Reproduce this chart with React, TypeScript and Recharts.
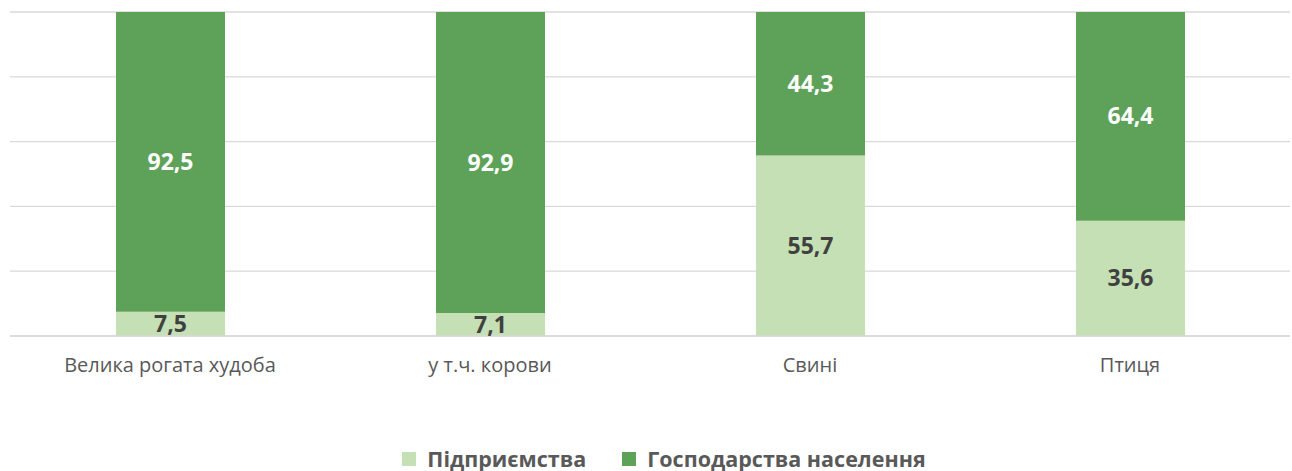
import React from "react";
import { BarChart, Bar, XAxis, YAxis, CartesianGrid, LabelList, Legend } from "recharts";

const categories = ["Велика рогата худоба", "у т.ч. корови", "Свині", "Птиця"];
const enterprises = [7.5, 7.1, 55.7, 35.6];
const households = [92.5, 92.9, 44.3, 64.4];
const yTicks = [0, 20, 40, 60, 80, 100];

const data = categories.map((name, i) => ({
  name,
  enterprises: enterprises[i],
  households: households[i],
}));

const LIGHT = "#c5e0b4";
const DARK = "#5ea25a";
const FONT = "'Open Sans', 'Noto Sans', sans-serif";

const fmt = (v: any) => String(v).replace(".", ",");

const LegendContent = () => (
  <div
    style={{
      display: "flex",
      justifyContent: "center",
      alignItems: "center",
      fontFamily: FONT,
      fontWeight: 700,
      fontSize: 21.5,
      color: "#595959",
      gap: 36,
      height: 29,
      paddingLeft: 36,
    }}
  >
    <div style={{ display: "flex", alignItems: "center" }}>
      <span style={{ width: 14, height: 14, background: LIGHT, display: "inline-block", marginRight: 11 }} />
      Підприємства
    </div>
    <div style={{ display: "flex", alignItems: "center" }}>
      <span style={{ width: 14, height: 14, background: DARK, display: "inline-block", marginRight: 11 }} />
      Господарства населення
    </div>
  </div>
);

export default function App() {
  return (
    <div style={{ position: "absolute", left: 0, top: 0, width: 1292, height: 471, background: "#fff" }}>
      <BarChart
        width={1292}
        height={471}
        data={data}
        margin={{ top: 12, right: 2, left: 10, bottom: 0 }}
        barSize={109}
      >
        <CartesianGrid vertical={false} stroke="#d9d9d9" strokeWidth={1.3} />
        <YAxis hide domain={[0, 100]} ticks={yTicks} />
        <XAxis
          dataKey="name"
          height={106}
          axisLine={{ stroke: "#d9d9d9", strokeWidth: 1.3 }}
          tickLine={false}
          tickMargin={16}
          tick={{ fill: "#595959", fontSize: 20, fontFamily: FONT }}
        />
        <Legend
          content={<LegendContent />}
          wrapperStyle={{ position: "absolute", top: 444, left: 0, width: 1292, height: 29 }}
        />
        <Bar dataKey="enterprises" stackId="a" fill={LIGHT} isAnimationActive={false}>
          <LabelList
            dataKey="enterprises"
            position="center"
            formatter={fmt}
            fill="#404040"
            style={{ fontFamily: FONT, fontWeight: 700, fontSize: 23 }}
          />
        </Bar>
        <Bar dataKey="households" stackId="a" fill={DARK} isAnimationActive={false}>
          <LabelList
            dataKey="households"
            position="center"
            formatter={fmt}
            fill="#ffffff"
            style={{ fontFamily: FONT, fontWeight: 700, fontSize: 23 }}
          />
        </Bar>
      </BarChart>
    </div>
  );
}
